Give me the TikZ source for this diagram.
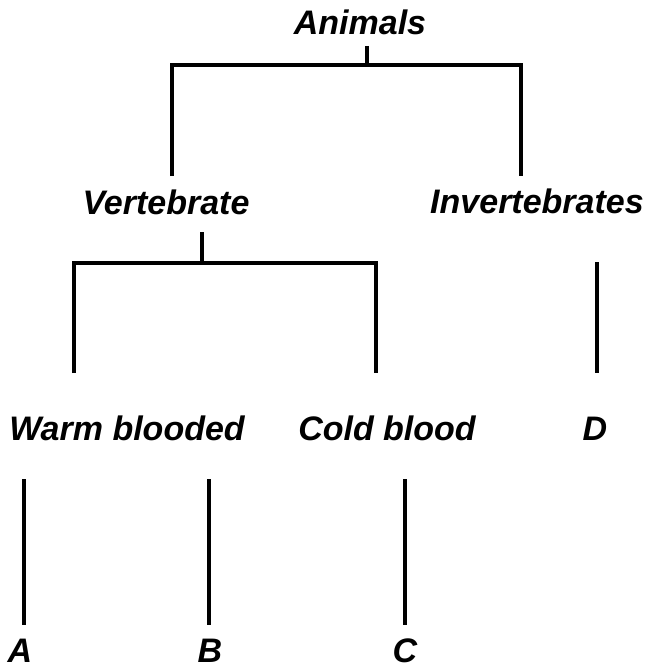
\documentclass[tikz,border=0pt]{standalone}
\usepackage{fontspec}
\setmainfont{Liberation Sans}
\usetikzlibrary{positioning}
\tikzset{
  lbl/.style={font=\fontsize{34}{40}\selectfont\bfseries\itshape, inner sep=0pt,
              anchor=base, text=black},
  branch/.style={line width=4pt, draw=black},
}

\begin{document}
\begin{tikzpicture}[x=1pt,y=-1pt]
    \useasboundingbox (0,0) rectangle (649,669);
    % labels
    \node[lbl] (animals) at (360,35) {Animals};
    \node[lbl] (vert) at (166,214) {Vertebrate};
    \node[lbl] (invert) at (537,213) {Invertebrates};
    \node[lbl] (warm) at (127,440) {Warm blooded};
    \node[lbl] (cold) at (387,440) {Cold blood};
    \node[lbl] (d) at (595,440) {D};
    \node[lbl] (a) at (20,662) {A};
    \node[lbl] (b) at (210,662) {B};
    \node[lbl] (c) at (405,662) {C};
    % joints of the tree
    \coordinate (astem) at (367,46);  \coordinate (afork) at (367,65);
    \coordinate (vend) at (172,176);  \coordinate (iend) at (521,176);
    \coordinate (vstem) at (202,232); \coordinate (vfork) at (202,263);
    \coordinate (wend) at (74,373);   \coordinate (cend) at (376,373);
    \coordinate (itop) at (597,262);  \coordinate (ibot) at (597,373);
    \coordinate (atop) at (24,479);   \coordinate (abot) at (24,625);
    \coordinate (btop) at (209,479);  \coordinate (bbot) at (209,625);
    \coordinate (ctop) at (405,479);  \coordinate (cbot) at (405,625);
    \draw[branch] (astem) -- (afork);
    \draw[branch] (vend) |- (afork) -| (iend);
    \draw[branch] (vstem) -- (vfork);
    \draw[branch] (wend) |- (vfork) -| (cend);
    \draw[branch] (itop) -- (ibot);
    \draw[branch] (atop) -- (abot);
    \draw[branch] (btop) -- (bbot);
    \draw[branch] (ctop) -- (cbot);
\end{tikzpicture}
\end{document}
